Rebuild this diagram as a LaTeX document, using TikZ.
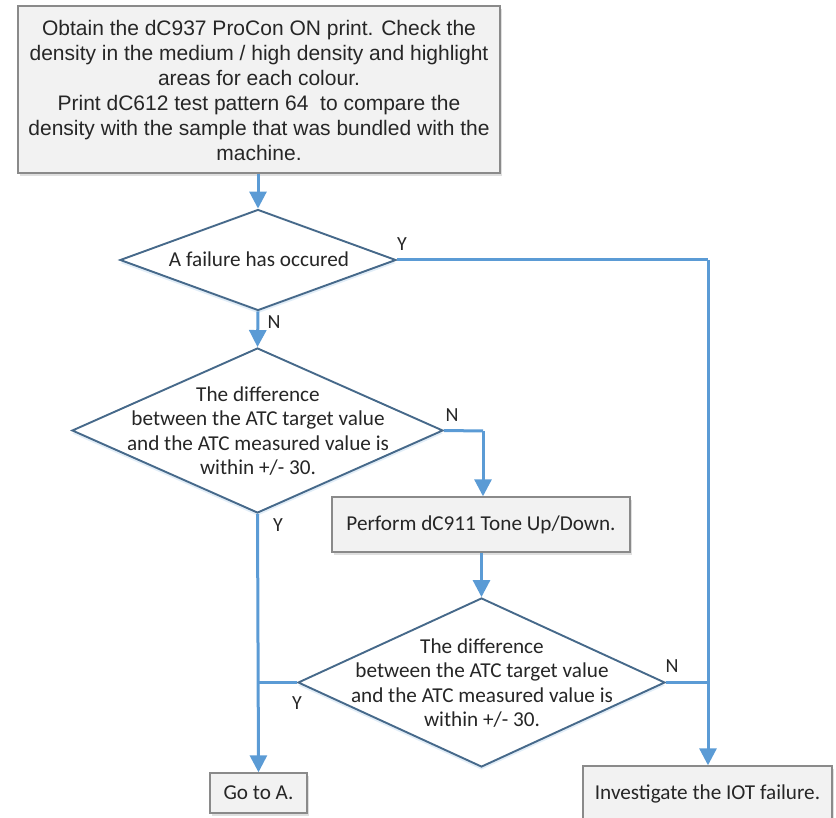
\documentclass[tikz,border=0pt]{standalone}
\usepackage{fontspec}
\setmainfont{Carlito}
\newfontfamily\arialf{Liberation Sans}
\usetikzlibrary{shapes.geometric,arrows.meta,shadows}
\definecolor{conn}{HTML}{5B9BD5}
\definecolor{diaedge}{HTML}{46698A}
\definecolor{boxedge}{HTML}{8A8A8A}
\definecolor{boxfill}{HTML}{F2F2F2}
\definecolor{txt}{HTML}{262626}
\tikzset{
  procbox/.style={draw=boxedge, line width=1.4pt, fill=boxfill, inner sep=0pt,
    drop shadow={opacity=0.25, shadow xshift=1.5pt, shadow yshift=-3pt}},
  dia/.style={shape=diamond, draw=diaedge, line width=1.9pt, fill=white, inner sep=0pt,
    drop shadow={opacity=0.18, fill=conn, shadow xshift=0pt, shadow yshift=-3pt}},
  dtext/.style={align=center, text=txt, font=\fontsize{21.2}{24.3}\selectfont, inner sep=0pt},
  btext/.style={text=txt, font=\fontsize{21.2}{24.3}\selectfont},
  lbl/.style={text=txt, font=\fontsize{20}{22}\selectfont, inner sep=0pt},
  conline/.style={draw=conn, line width=3pt},
  conarrow/.style={conline, -{Triangle[width=17pt,length=17pt]}},
}
\begin{document}
\begin{tikzpicture}[x=1pt,y=-1pt]
\useasboundingbox (0,0) rectangle (836,818);
\clip (0,0) rectangle (836,818);
% top box
\node[procbox, minimum width=482pt, minimum height=167pt] (top) at (259,89.5) {};
\node[align=center, text=txt, font=\arialf\fontsize{21}{25}\selectfont, inner sep=0pt] at (259,90) {Obtain the dC937 ProCon ON print. Check the\\density in the medium / high density and highlight\\areas for each colour.\\Print dC612 test pattern 64\ \ to compare the\\density with the sample that was bundled with the\\machine.};
% diamond 1
\node[dia, minimum width=276pt, minimum height=101pt] (d1) at (258,260) {};
\node[dtext] (d1t) at (259,259) {A failure has occured};
% diamond 2
\node[dia, minimum width=371pt, minimum height=165pt] (d2) at (257.5,430.5) {};
\node[dtext] (d2t) at (258,431) {The difference\\between the ATC target value\\and the ATC measured value is\\within +/- 30.};
% perform box
\node[procbox, minimum width=298pt, minimum height=55pt] (perf) at (481,524.5) {};
\node[btext] at (perf) {Perform dC911 Tone Up/Down.};
% diamond 3
\node[dia, minimum width=367pt, minimum height=169pt] (d3) at (481.5,682.5) {};
\node[dtext] (d3t) at (482,683) {The difference\\between the ATC target value\\and the ATC measured value is\\within +/- 30.};
% end boxes
\node[procbox, minimum width=97pt, minimum height=40pt] (goa) at (258.5,793) {};
\node[btext] at (goa) {Go to A.};
\node[procbox, minimum width=249pt, minimum height=58pt] (inv) at (707.5,795) {};
\node[btext] at (707.5,794) {Investigate the IOT failure.};
% coordinates
\coordinate (rj) at (708,260);
\coordinate (nj) at (483,431);
\coordinate (lj) at (258.5,682.5);
\coordinate (rj3) at (708,682.5);
% connectors
\draw[conarrow] (top.south -| d1.north) -- (d1.north);
\draw[conline] (d1.east) -- (rj);
\draw[conarrow] (rj) -- (rj |- inv.north);
\draw[conarrow] (d1.south) -- (d2.north);
\draw[conline] (d2.east) -- (nj);
\draw[conarrow] (nj) -- (nj |- perf.north);
\draw[conarrow] (d2.south) -- (goa.north);
\draw[conarrow] (perf.south -| d3.north) -- (d3.north);
\draw[conline] (d3.west) -- (lj);
\draw[conline] (d3.east) -- (rj3);
% labels
\node[lbl] at (402,244) {Y};
\node[lbl] at (274,322) {N};
\node[lbl] at (452,415) {N};
\node[lbl] at (278,525) {Y};
\node[lbl] at (672,666) {N};
\node[lbl] at (297,703) {Y};
\end{tikzpicture}
\end{document}
